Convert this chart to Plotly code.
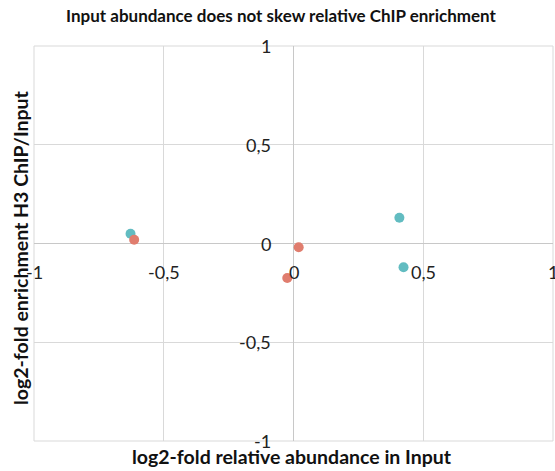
import plotly.graph_objects as go

# Series values (log2 fold)
series_names = ["Series A", "Series B"]
a_x = [-0.628, 0.408, 0.424]
a_y = [0.049, 0.130, -0.120]
b_x = [-0.614, 0.020, -0.024]
b_y = [0.019, -0.019, -0.175]

tick_vals = [-1, -0.5, 0, 0.5, 1]
tick_text = ["-1", "-0,5", "0", "0,5", "1"]

title_text = "Input abundance does not skew relative ChIP enrichment"
x_title = "log2-fold relative abundance in Input"
y_title = "log2-fold enrichment H3 ChIP/Input"

FONT = "Lato"
teal = "#62BCC1"
salmon = "#E07D6E"

W, H = 555, 471
ML, MR, MT, MB = 34, 2, 46, 30
plot_w = W - ML - MR
plot_h = H - MT - MB

fig = go.Figure()
fig.add_trace(go.Scatter(x=a_x, y=a_y, mode="markers", name=series_names[0],
                         marker=dict(size=10, color=teal)))
fig.add_trace(go.Scatter(x=b_x, y=b_y, mode="markers", name=series_names[1],
                         marker=dict(size=10, color=salmon)))

annotations = []
# x tick labels sit just under the horizontal zero axis
for v, t in zip(tick_vals, tick_text):
    annotations.append(dict(x=v, y=0, xref="x", yref="y", text=t, showarrow=False,
                            xanchor="center", yanchor="top", yshift=-15,
                            font=dict(family=FONT, size=18, color="#222")))
# y tick labels sit left of the vertical zero axis
for v, t in zip(tick_vals, tick_text):
    annotations.append(dict(x=0, y=v, xref="x", yref="y", text=t, showarrow=False,
                            xanchor="right", yanchor="middle", xshift=-21,
                            font=dict(family=FONT, size=18, color="#222")))

# axis titles placed in pixel terms relative to the plot area
annotations.append(dict(x=(292 - ML) / plot_w, y=-(456 - (H - MB)) / plot_h,
                        xref="paper", yref="paper", text="<b>%s</b>" % x_title,
                        showarrow=False, xanchor="center", yanchor="middle",
                        font=dict(family=FONT, size=19.5, color="#111")))
annotations.append(dict(x=-(ML - 20) / plot_w, y=(H - MB - 248) / plot_h,
                        xref="paper", yref="paper", text="<b>%s</b>" % y_title,
                        showarrow=False, textangle=-90, xanchor="center", yanchor="middle",
                        font=dict(family=FONT, size=19.5, color="#111")))

fig.update_layout(
    width=W, height=H,
    margin=dict(l=ML, r=MR, t=MT, b=MB),
    paper_bgcolor="white", plot_bgcolor="white",
    showlegend=False,
    title=dict(text="<b>%s</b>" % title_text, x=281 / W, xanchor="center",
               y=1 - 16 / H, yanchor="middle",
               font=dict(family=FONT, size=17, color="#111")),
    xaxis=dict(range=[-1, 1], tickvals=tick_vals, showticklabels=False, ticks="",
               showgrid=True, gridcolor="#D9D9D9", gridwidth=1,
               zeroline=True, zerolinecolor="#C8C8C8", zerolinewidth=1,
               showline=False, fixedrange=True),
    yaxis=dict(range=[-1, 1], tickvals=tick_vals, showticklabels=False, ticks="",
               showgrid=True, gridcolor="#D9D9D9", gridwidth=1,
               zeroline=True, zerolinecolor="#C8C8C8", zerolinewidth=1,
               showline=False, fixedrange=True),
    shapes=[dict(type="rect", xref="paper", yref="paper", x0=0, x1=1, y0=0, y1=1,
                 line=dict(color="#D9D9D9", width=1), layer="below")],
    annotations=annotations,
)

fig.write_html("out.html")
